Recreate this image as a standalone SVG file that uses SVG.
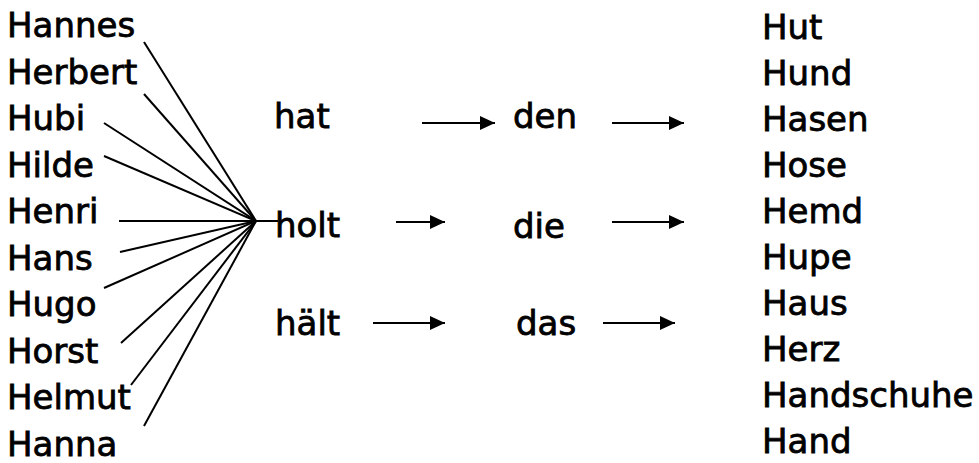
<svg xmlns="http://www.w3.org/2000/svg" width="979" height="463" viewBox="0 0 979 463">
<defs>
<style>
text{font-family:"DejaVu Sans","Liberation Sans",sans-serif;font-size:34px;fill:#000;stroke:#000;stroke-width:0.8px}
.c line{stroke:#000;stroke-width:2}
.a line{stroke:#000;stroke-width:2.2}
</style>
<marker id="ah" viewBox="0 0 15 14" refX="15" refY="7" markerWidth="15" markerHeight="14" markerUnits="userSpaceOnUse" orient="auto"><path d="M0,0 L15,7 L0,14 Z" fill="#000"/></marker>
</defs>
<rect width="979" height="463" fill="#fff"/>
<g id="subjects">
<text x="7" y="37">Hannes</text>
<text x="7" y="83.5">Herbert</text>
<text x="7" y="130">Hubi</text>
<text x="7" y="176.5">Hilde</text>
<text x="7" y="223">Henri</text>
<text x="7" y="269.5">Hans</text>
<text x="7" y="316">Hugo</text>
<text x="7" y="362.5">Horst</text>
<text x="7" y="409">Helmut</text>
<text x="7" y="455.5">Hanna</text>
</g>
<g id="verbs">
<text x="274" y="128">hat</text>
<text x="275" y="237">holt</text>
<text x="275" y="335">hält</text>
</g>
<g id="articles">
<text x="513" y="128">den</text>
<text x="513" y="238">die</text>
<text x="516" y="335">das</text>
</g>
<g id="objects">
<text x="762" y="39">Hut</text>
<text x="762" y="85">Hund</text>
<text x="762" y="131">Hasen</text>
<text x="762" y="177">Hose</text>
<text x="762" y="223">Hemd</text>
<text x="762" y="269">Hupe</text>
<text x="762" y="315">Haus</text>
<text x="762" y="361">Herz</text>
<text x="762" y="407">Handschuhe</text>
<text x="762" y="453">Hand</text>
</g>
<g id="connectors" class="c">
<line x1="144" y1="42" x2="256" y2="221"/>
<line x1="144" y1="94" x2="256" y2="221"/>
<line x1="104" y1="123" x2="256" y2="221"/>
<line x1="104" y1="156" x2="256" y2="221"/>
<line x1="119" y1="221" x2="278" y2="221"/>
<line x1="120" y1="252" x2="256" y2="221"/>
<line x1="104" y1="288" x2="256" y2="221"/>
<line x1="121" y1="343" x2="256" y2="221"/>
<line x1="131" y1="385" x2="256" y2="221"/>
<line x1="144" y1="426" x2="256" y2="221"/>
</g>
<g id="arrows" class="a">
<line x1="422" y1="123" x2="495" y2="123" marker-end="url(#ah)"/>
<line x1="612" y1="123" x2="684" y2="123" marker-end="url(#ah)"/>
<line x1="396" y1="222" x2="445" y2="222" marker-end="url(#ah)"/>
<line x1="612" y1="222" x2="684" y2="222" marker-end="url(#ah)"/>
<line x1="373" y1="323" x2="445" y2="323" marker-end="url(#ah)"/>
<line x1="603" y1="323" x2="675" y2="323" marker-end="url(#ah)"/>
</g>
</svg>
